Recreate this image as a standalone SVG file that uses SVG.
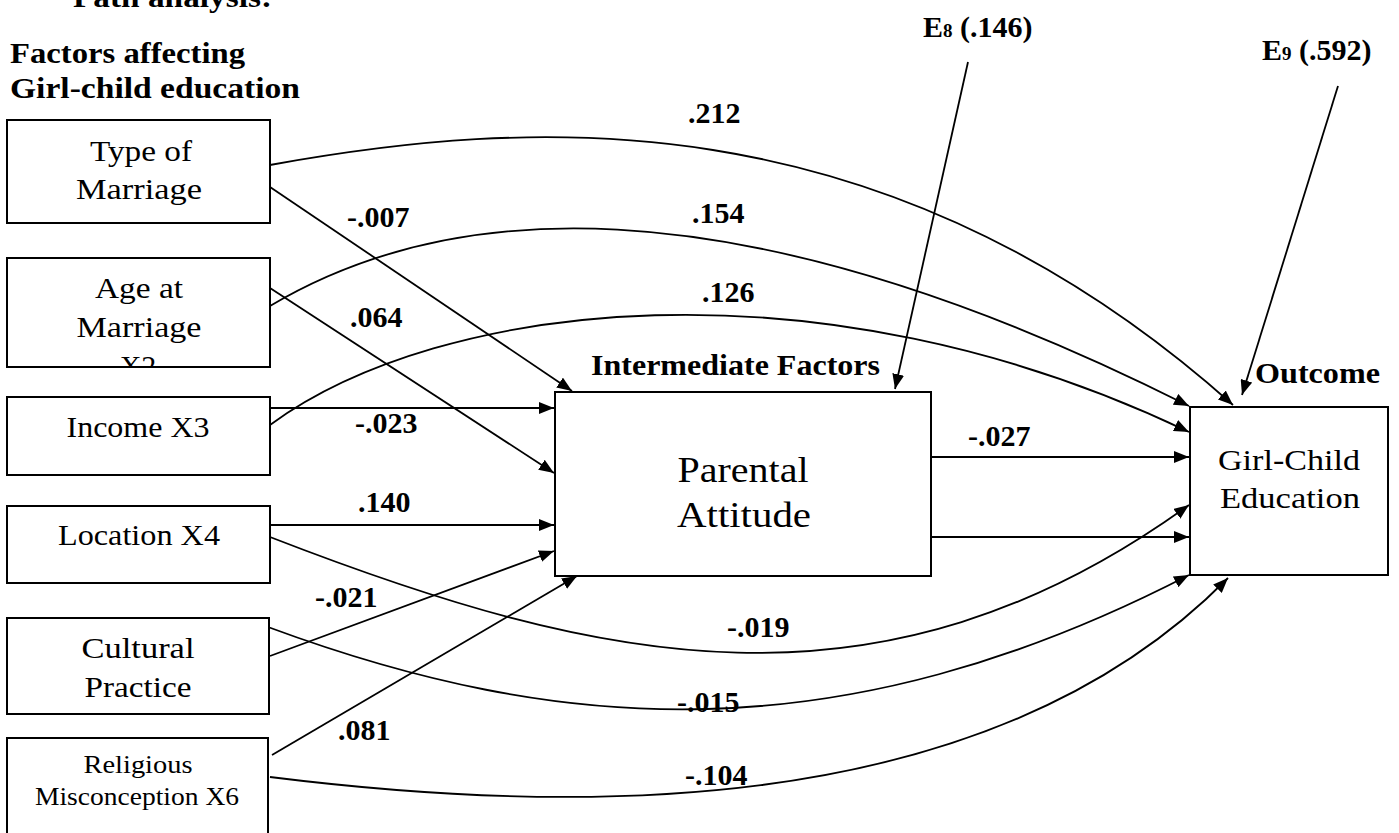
<svg xmlns="http://www.w3.org/2000/svg" width="1399" height="833" viewBox="0 0 1399 833">
<style>
text{font-family:'Liberation Serif','Times New Roman',serif;fill:#000}
.h{font-weight:bold;font-size:29px}
.n{font-size:30px;text-anchor:middle}
.c{font-weight:bold;font-size:30px}
.box{fill:#fff;stroke:#000;stroke-width:2}
.ln{fill:none;stroke:#000;stroke-width:1.8}
</style>
<defs>
<marker id="ah" markerUnits="userSpaceOnUse" markerWidth="15" markerHeight="12" viewBox="0 0 15 12" refX="15" refY="6" orient="auto">
<path d="M0,0 L15,6 L0,12 z" fill="#000"/>
</marker>
<clipPath id="clipAge"><rect x="7" y="258" width="263" height="109"/></clipPath>
</defs>
<rect width="1399" height="833" fill="#fff"/>

<text class="h" x="73" y="7" textLength="199" lengthAdjust="spacingAndGlyphs">Path analysis:</text>
<text class="h" x="10" y="63" textLength="235" lengthAdjust="spacingAndGlyphs">Factors affecting</text>
<text class="h" x="10" y="98" textLength="290" lengthAdjust="spacingAndGlyphs">Girl-child education</text>

<g id="connectors">
<path class="ln" marker-end="url(#ah)" d="M270,165 C520,120 880,90 1233,405"/>
<path class="ln" marker-end="url(#ah)" d="M270,306 C440,205 720,170 1189,406"/>
<path class="ln" marker-end="url(#ah)" d="M270,425 C440,300 820,255 1189,432"/>
<path class="ln" marker-end="url(#ah)" d="M270,187 L572,391"/>
<path class="ln" marker-end="url(#ah)" d="M270,288 L554,473"/>
<path class="ln" marker-end="url(#ah)" d="M268,408 L554,408"/>
<path class="ln" marker-end="url(#ah)" d="M270,525 L554,525"/>
<path class="ln" marker-end="url(#ah)" d="M270,656 L554,551"/>
<path class="ln" marker-end="url(#ah)" d="M272,755 L577,576"/>
<path class="ln" marker-end="url(#ah)" d="M931,457 L1189,457"/>
<path class="ln" marker-end="url(#ah)" d="M931,537 L1189,537"/>
<path class="ln" marker-end="url(#ah)" d="M270,537 C600,665 880,728 1189,505"/>
<path class="ln" marker-end="url(#ah)" d="M268,627 C560,735 840,755 1189,575"/>
<path class="ln" marker-end="url(#ah)" d="M270,777 C550,812 980,830 1228,578"/>
<path class="ln" marker-end="url(#ah)" d="M968,62 L895,389"/>
<path class="ln" marker-end="url(#ah)" d="M1338,86 L1242,395"/>
</g>

<g id="node-type-of-marriage">
<rect class="box" x="7" y="120" width="263" height="103"/>
<text class="n" x="141" y="161" textLength="102" lengthAdjust="spacingAndGlyphs">Type of</text>
<text class="n" x="139" y="199" textLength="126" lengthAdjust="spacingAndGlyphs">Marriage</text>
</g>
<g id="node-age-at-marriage">
<rect class="box" x="7" y="258" width="263" height="109"/>
<g clip-path="url(#clipAge)">
<text class="n" x="139" y="298" textLength="88" lengthAdjust="spacingAndGlyphs">Age at</text>
<text class="n" x="139" y="337" textLength="125" lengthAdjust="spacingAndGlyphs">Marriage</text>
<text class="n" x="138" y="376">X2</text>
</g>
</g>
<g id="node-income">
<rect class="box" x="7" y="397" width="263" height="78"/>
<text class="n" x="138" y="437" textLength="143" lengthAdjust="spacingAndGlyphs">Income X3</text>
</g>
<g id="node-location">
<rect class="box" x="7" y="506" width="263" height="77"/>
<text class="n" x="139" y="545" textLength="162" lengthAdjust="spacingAndGlyphs">Location X4</text>
</g>
<g id="node-cultural-practice">
<rect class="box" x="7" y="618" width="262" height="96"/>
<text class="n" x="138" y="658" textLength="113" lengthAdjust="spacingAndGlyphs">Cultural</text>
<text class="n" x="138" y="697" textLength="107" lengthAdjust="spacingAndGlyphs">Practice</text>
</g>
<g id="node-religious-misconception">
<rect class="box" x="7" y="738" width="261" height="110"/>
<text class="n" style="font-size:25px" x="138" y="773" textLength="109" lengthAdjust="spacingAndGlyphs">Religious</text>
<text class="n" style="font-size:25px" x="137" y="805" textLength="204" lengthAdjust="spacingAndGlyphs">Misconception X6</text>
</g>
<g id="node-parental-attitude">
<text class="h" x="591" y="375" textLength="289" lengthAdjust="spacingAndGlyphs">Intermediate Factors</text>
<rect class="box" x="555" y="392" width="376" height="184"/>
<text class="n" style="font-size:35px" x="743" y="482" textLength="131" lengthAdjust="spacingAndGlyphs">Parental</text>
<text class="n" style="font-size:35px" x="744" y="527" textLength="134" lengthAdjust="spacingAndGlyphs">Attitude</text>
</g>
<g id="node-girl-child-education">
<text class="h" x="1255" y="383" textLength="125" lengthAdjust="spacingAndGlyphs">Outcome</text>
<rect class="box" x="1190" y="407" width="198" height="168"/>
<text class="n" x="1289" y="470" textLength="142" lengthAdjust="spacingAndGlyphs">Girl-Child</text>
<text class="n" x="1290" y="508" textLength="140" lengthAdjust="spacingAndGlyphs">Education</text>
</g>
<g id="node-e8">
<text class="c" x="923" y="37">E<tspan style="font-size:19px">8</tspan> (.146)</text>
</g>
<g id="node-e9">
<text class="c" x="1262" y="60">E<tspan style="font-size:19px">9</tspan> (.592)</text>
</g>

<g id="labels">
<text class="c" x="688" y="123">.212</text>
<text class="c" x="692" y="223">.154</text>
<text class="c" x="702" y="302">.126</text>
<text class="c" x="347" y="227">-.007</text>
<text class="c" x="350" y="327">.064</text>
<text class="c" x="355" y="433">-.023</text>
<text class="c" x="358" y="512">.140</text>
<text class="c" x="315" y="607">-.021</text>
<text class="c" x="338" y="740">.081</text>
<text class="c" x="968" y="446">-.027</text>
<text class="c" x="727" y="637">-.019</text>
<text class="c" x="677" y="712">-.015</text>
<text class="c" x="685" y="785">-.104</text>
</g>
</svg>
